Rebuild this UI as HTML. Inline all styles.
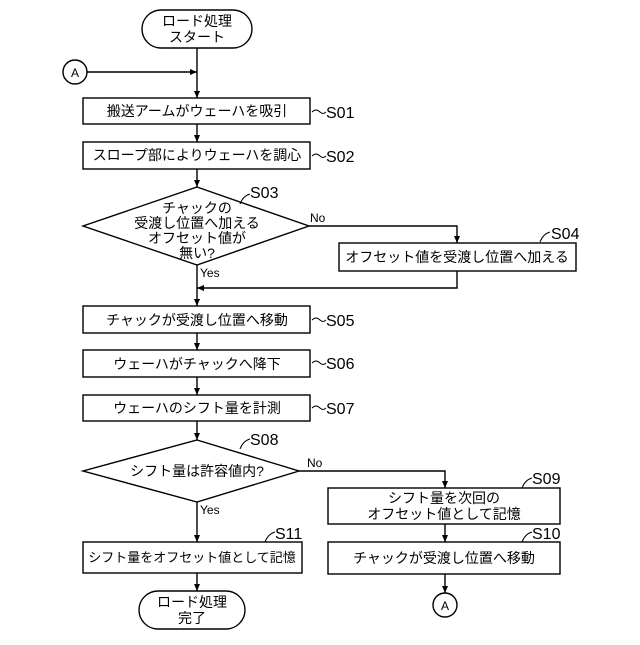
<!DOCTYPE html>
<html><head><meta charset="utf-8"><style>body{margin:0;background:#fff}</style></head><body>
<svg width="640" height="640" viewBox="0 0 640 640" xmlns="http://www.w3.org/2000/svg" font-family="'Liberation Sans','Noto Sans CJK JP',sans-serif" font-size="14" fill="none" stroke="#000" stroke-width="1.4">
<defs><marker id="a" markerWidth="8" markerHeight="8" refX="7" refY="4" orient="auto" markerUnits="userSpaceOnUse"><path d="M0,1 L7,4 L0,7 z" fill="#000" stroke="none"/></marker></defs>
<rect x="142" y="10" width="110" height="38" rx="19"/>
<circle cx="75" cy="72" r="12"/>
<circle cx="445" cy="605" r="12"/>
<rect x="83" y="98" width="227" height="26"/>
<rect x="83" y="142" width="227" height="27"/>
<path d="M197,187 L309,226 L197,265 L83,226 Z"/>
<rect x="339" y="243" width="237" height="28"/>
<rect x="83" y="306" width="227" height="27"/>
<rect x="83" y="350" width="227" height="27"/>
<rect x="83" y="395" width="227" height="26"/>
<path d="M197,440 L299,471 L197,502 L83,471 Z"/>
<rect x="328" y="488" width="232" height="36"/>
<rect x="328" y="542" width="232" height="32"/>
<rect x="83" y="542" width="219" height="31"/>
<rect x="139" y="591" width="106" height="38" rx="19"/>
<g marker-end="url(#a)">
<path d="M197,48 V98"/>
<path d="M87,72 H197"/>
<path d="M197,124 V142"/>
<path d="M197,169 V187"/>
<path d="M309,226 H457 V243"/>
<path d="M457,271 V288 H197"/>
<path d="M197,265 V306"/>
<path d="M197,333 V350"/>
<path d="M197,377 V395"/>
<path d="M197,421 V440"/>
<path d="M299,471 H445 V488"/>
<path d="M445,524 V542"/>
<path d="M445,574 V593"/>
<path d="M197,502 V542"/>
<path d="M197,573 V591"/>
</g>
<g stroke-width="1">
<path d="M312,112 q4,-4 8,0 q3,3 6,0"/>
<path d="M312,156 q4,-4 8,0 q3,3 6,0"/>
<path d="M312,320 q4,-4 8,0 q3,3 6,0"/>
<path d="M312,363 q4,-4 8,0 q3,3 6,0"/>
<path d="M312,408 q4,-4 8,0 q3,3 6,0"/>
<path d="M240,204 q3,-8 10,-10"/>
<path d="M540,242 q3,-8 10,-10"/>
<path d="M240,449 q3,-8 10,-10"/>
<path d="M522,488 q3,-8 10,-10"/>
<path d="M522,542 q3,-8 10,-10"/>
<path d="M265,542 q3,-8 10,-10"/>
</g>
<g fill="#000" stroke="none" text-anchor="middle">
<text x="197" y="26">ロード処理</text><text x="197" y="42">スタート</text>
<text x="75" y="77" font-size="12">A</text>
<text x="445" y="610" font-size="12">A</text>
<text x="197" y="116">搬送アームがウェーハを吸引</text>
<text x="197" y="160">スロープ部によりウェーハを調心</text>
<text x="197" y="213">チャックの</text><text x="197" y="228">受渡し位置へ加える</text><text x="197" y="243">オフセット値が</text><text x="197" y="258">無い?</text>
<text x="457" y="262">オフセット値を受渡し位置へ加える</text>
<text x="197" y="325">チャックが受渡し位置へ移動</text>
<text x="197" y="369">ウェーハがチャックへ降下</text>
<text x="197" y="413">ウェーハのシフト量を計測</text>
<text x="197" y="476">シフト量は許容値内?</text>
<text x="444" y="503">シフト量を次回の</text><text x="444" y="519">オフセット値として記憶</text>
<text x="444" y="563">チャックが受渡し位置へ移動</text>
<text x="192" y="562" font-size="13">シフト量をオフセット値として記憶</text>
<text x="192" y="607">ロード処理</text><text x="192" y="623">完了</text>
</g>
<g fill="#000" stroke="none" font-size="16">
<text x="326" y="118">S01</text><text x="326" y="162">S02</text>
<text x="250" y="198">S03</text><text x="551" y="239">S04</text>
<text x="326" y="326">S05</text><text x="326" y="369">S06</text><text x="326" y="414">S07</text>
<text x="250" y="445">S08</text><text x="532" y="484">S09</text><text x="532" y="539">S10</text><text x="275" y="539">S11</text>
<text x="310" y="222" font-size="12">No</text><text x="200" y="277" font-size="12">Yes</text>
<text x="307" y="467" font-size="12">No</text><text x="200" y="514" font-size="12">Yes</text>
</g>
</svg>
</body></html>
